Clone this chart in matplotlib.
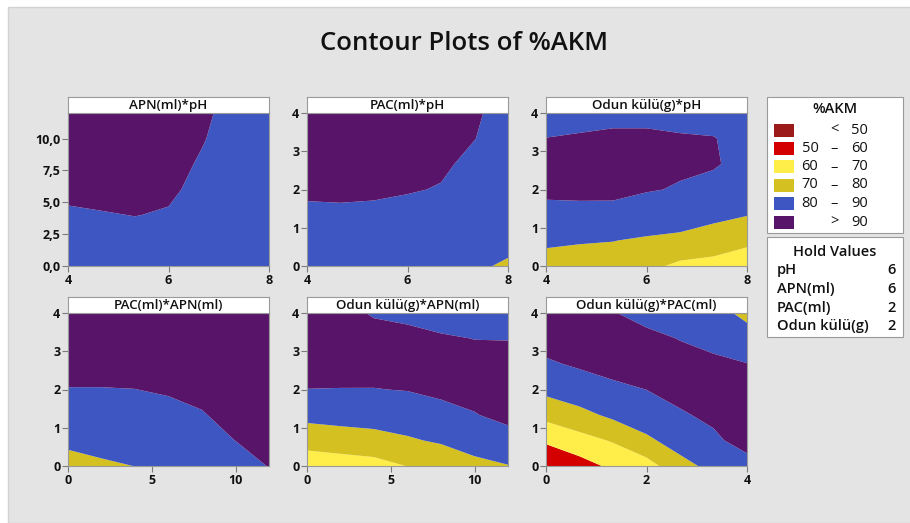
import matplotlib
matplotlib.use("Agg")
import matplotlib.pyplot as plt
import numpy as np
from matplotlib.patches import Rectangle

plt.rcParams['font.family'] = ['Open Sans', 'DejaVu Sans']

# ---------------- data ----------------
level_edges = [0, 50, 60, 70, 80, 90, 200]
level_colors = ['#9b1b1b', '#d40000', '#ffee4a', '#d4c021', '#3d56c1', '#581468']
legend_low = ['', '50', '60', '70', '80', '']
legend_sep = ['<', '–', '–', '–', '–', '>']
legend_high = ['50', '60', '70', '80', '90', '90']

hold_names = ['pH', 'APN(ml)', 'PAC(ml)', 'Odun külü(g)']
hold_values = ['6', '6', '2', '2']

titles = ['APN(ml)*pH', 'PAC(ml)*pH', 'Odun külü(g)*pH',
          'PAC(ml)*APN(ml)', 'Odun külü(g)*APN(ml)', 'Odun külü(g)*PAC(ml)']

ph_grid = [4, 4.667, 5.333, 6, 6.667, 7.333, 8]
apn_grid = [0, 2, 4, 6, 8, 10, 12]
g04_grid = [0, 0.667, 1.333, 2, 2.667, 3.333, 4]

# rows = y values (bottom to top), columns = x values
z_apn_ph = [
    [86.0, 86.5, 86.5, 86.0, 85.0, 84.0, 82.0],
    [87.5, 88.0, 88.2, 87.5, 86.5, 85.0, 83.0],
    [89.4, 89.7, 90.1, 89.6, 87.8, 86.0, 84.0],
    [91.0, 91.5, 91.5, 90.8, 88.7, 86.8, 84.5],
    [92.5, 93.0, 92.5, 91.5, 89.5, 87.5, 85.0],
    [94.0, 94.0, 93.5, 92.0, 90.3, 88.0, 85.5],
    [95.0, 95.0, 94.0, 92.5, 90.8, 88.5, 86.0],
]
z_pac_ph = [
    [84.5, 84.5, 84.5, 84.0, 83.0, 80.8, 79.3],
    [86.5, 86.5, 86.5, 86.0, 85.0, 83.5, 81.5],
    [88.8, 88.9, 88.8, 88.2, 87.0, 85.5, 83.5],
    [91.0, 91.2, 90.9, 90.4, 89.7, 87.3, 85.3],
    [92.5, 92.8, 92.5, 91.8, 90.8, 88.8, 86.8],
    [93.5, 93.8, 93.5, 92.8, 91.8, 90.1, 87.8],
    [94.0, 94.2, 94.0, 93.2, 92.2, 90.6, 88.3],
]
z_odun_ph = [
    [77.0, 76.5, 75.8, 72.5, 68.0, 67.0, 64.5],
    [81.3, 80.6, 80.2, 78.8, 77.6, 75.0, 72.0],
    [88.5, 88.5, 88.3, 86.0, 85.0, 82.5, 80.3],
    [91.0, 91.2, 91.3, 90.5, 89.5, 88.0, 85.5],
    [91.8, 92.2, 92.4, 91.8, 91.0, 90.6, 88.0],
    [90.1, 90.7, 91.0, 90.8, 90.4, 90.2, 88.2],
    [87.0, 87.5, 88.5, 88.8, 88.5, 88.0, 86.0],
]
z_pac_apn = [
    [76.5, 78.5, 80.1, 81.0, 81.5, 84.0, 90.5],
    [82.0, 83.5, 84.5, 85.0, 85.8, 90.1, 94.0],
    [86.5, 87.3, 88.0, 88.3, 89.5, 92.5, 96.0],
    [89.8, 89.8, 89.95, 90.6, 92.0, 94.0, 97.0],
    [92.0, 92.0, 92.0, 92.4, 93.3, 95.0, 97.5],
    [93.5, 93.5, 93.5, 93.5, 94.2, 95.5, 97.8],
    [94.5, 94.5, 94.5, 94.3, 94.6, 95.8, 98.0],
]
z_odun_apn = [
    [63.0, 65.0, 66.5, 70.2, 72.0, 77.5, 79.6],
    [74.5, 75.5, 76.5, 78.8, 81.3, 84.0, 87.5],
    [82.5, 83.5, 84.3, 85.5, 88.0, 89.7, 91.7],
    [89.9, 89.8, 89.8, 90.3, 91.3, 92.0, 93.0],
    [93.5, 93.0, 92.8, 92.5, 92.3, 92.0, 92.2],
    [94.5, 93.8, 92.7, 91.8, 90.7, 89.9, 89.8],
    [93.5, 92.3, 89.3, 88.5, 87.2, 86.5, 86.0],
]
z_odun_pac = [
    [51.0, 56.0, 62.0, 66.0, 76.5, 83.0, 87.5],
    [61.5, 66.5, 70.8, 78.0, 84.5, 88.8, 92.5],
    [73.0, 77.0, 82.0, 86.0, 89.3, 91.3, 93.3],
    [82.5, 86.0, 88.5, 90.05, 92.0, 92.5, 92.0],
    [89.0, 91.0, 92.5, 92.8, 92.0, 91.5, 90.2],
    [93.0, 94.0, 93.5, 91.5, 89.8, 87.8, 84.0],
    [95.0, 94.5, 90.3, 88.0, 85.5, 83.5, 77.5],
]

x_ticks = [[4, 6, 8], [4, 6, 8], [4, 6, 8], [0, 5, 10], [0, 5, 10], [0, 2, 4]]
y_ticks = [[0, 2.5, 5, 7.5, 10], [0, 1, 2, 3, 4], [0, 1, 2, 3, 4],
           [0, 1, 2, 3, 4], [0, 1, 2, 3, 4], [0, 1, 2, 3, 4]]
y_ticklabels = [['0,0', '2,5', '5,0', '7,5', '10,0'], None, None, None, None, None]

# ---------------- figure ----------------
W, H = 910, 523
fig = plt.figure(figsize=(W / 100, H / 100), dpi=100)
fig.patch.set_facecolor('white')


def fx(px):
    return px / W


def fy(py):
    return 1 - py / H


fig.patches.append(Rectangle((fx(8), 0), 1, fy(7), transform=fig.transFigure,
                             facecolor='#e4e4e4', edgecolor='#d2d2d2', lw=1, zorder=-10))

fig.text(fx(464), fy(44), 'Contour Plots of %AKM', ha='center', va='center',
         fontsize=18.5, fontweight='semibold', color='#111111')

panels = [
    (ph_grid, apn_grid, z_apn_ph, (4, 8), (0, 12)),
    (ph_grid, g04_grid, z_pac_ph, (4, 8), (0, 4)),
    (ph_grid, g04_grid, z_odun_ph, (4, 8), (0, 4)),
    (apn_grid, g04_grid, z_pac_apn, (0, 12), (0, 4)),
    (apn_grid, g04_grid, z_odun_apn, (0, 12), (0, 4)),
    (g04_grid, g04_grid, z_odun_pac, (0, 4), (0, 4)),
]

lefts = [68, 307, 546]
tops = [113, 313]
pw, ph = 201, 153
strip = 16
frame_col = '#9a9a9a'

for i, (xg, yg, zz, xl, yl) in enumerate(panels):
    r, c = divmod(i, 3)
    L, T = lefts[c], tops[r]
    ax = fig.add_axes([fx(L), fy(T + ph), fx(pw), ph / H])
    ax.contourf(np.array(xg), np.array(yg), np.array(zz),
                levels=level_edges, colors=level_colors, antialiased=True)
    ax.set_xlim(*xl)
    ax.set_ylim(*yl)
    ax.set_xticks(x_ticks[i])
    ax.set_yticks(y_ticks[i])
    if y_ticklabels[i] is not None:
        ax.set_yticklabels(y_ticklabels[i])
    ax.tick_params(direction='out', length=4, width=0.8, color='#7a7a7a',
                   labelsize=9, pad=1.5, labelcolor='#111111')
    for lab in ax.get_xticklabels() + ax.get_yticklabels():
        lab.set_fontweight('bold')
    for s in ax.spines.values():
        s.set_color(frame_col)
        s.set_linewidth(0.8)
    # title strip
    tax = fig.add_axes([fx(L), fy(T), fx(pw), strip / H])
    tax.set_facecolor('white')
    tax.set_xticks([])
    tax.set_yticks([])
    for s in tax.spines.values():
        s.set_color(frame_col)
        s.set_linewidth(0.8)
    tax.text(0.5, 0.45, titles[i], ha='center', va='center', fontsize=9.6,
             fontweight='semibold', color='#111111', transform=tax.transAxes)

# ---------------- legend box ----------------
fig.patches.append(Rectangle((fx(767), fy(233)), fx(903 - 767), (233 - 97) / H,
                             transform=fig.transFigure, facecolor='white',
                             edgecolor=frame_col, lw=0.8))
fig.text(fx(835), fy(109), '%AKM', ha='center', va='center', fontsize=10.5,
         color='#111111', fontweight='semibold')
row_y = [130, 148.5, 167, 185, 203.5, 222]
for k in range(6):
    cy = row_y[k]
    fig.patches.append(Rectangle((fx(774), fy(cy + 6.5)), fx(20), 13 / H,
                                 transform=fig.transFigure,
                                 facecolor=level_colors[k], edgecolor='none'))
    if legend_low[k]:
        fig.text(fx(810), fy(cy), legend_low[k], ha='center', va='center',
                 fontsize=10.5, color='#111111')
    fig.text(fx(834), fy(cy), legend_sep[k], ha='center', va='center',
             fontsize=10.5, color='#111111')
    fig.text(fx(868), fy(cy), legend_high[k], ha='right', va='center',
             fontsize=10.5, color='#111111')

# ---------------- hold values box ----------------
fig.patches.append(Rectangle((fx(767), fy(337)), fx(903 - 767), (337 - 237) / H,
                             transform=fig.transFigure, facecolor='white',
                             edgecolor=frame_col, lw=0.8))
fig.text(fx(835), fy(252), 'Hold Values', ha='center', va='center',
         fontsize=10.5, color='#111111', fontweight='semibold')
hold_y = [270, 289, 308, 326]
for k in range(4):
    fig.text(fx(777), fy(hold_y[k]), hold_names[k], ha='left', va='center',
             fontsize=10.5, color='#111111', fontweight='semibold')
    fig.text(fx(896), fy(hold_y[k]), hold_values[k], ha='right', va='center',
             fontsize=10.5, color='#111111', fontweight='semibold')

fig.savefig('out.png', dpi=100, facecolor=fig.get_facecolor())
